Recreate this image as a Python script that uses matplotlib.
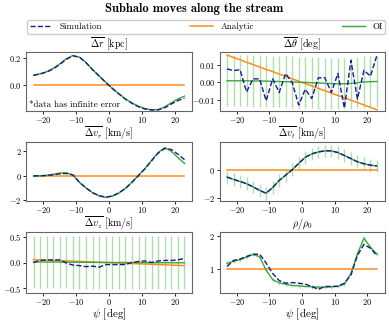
import numpy as np
import matplotlib
matplotlib.use('Agg')
import matplotlib.pyplot as plt

plt.rcParams['font.family'] = 'serif'
plt.rcParams['font.serif'] = ['cmr10']
plt.rcParams['mathtext.fontset'] = 'cm'
plt.rcParams['axes.formatter.use_mathtext'] = True

# angulo ao longo da corrente
psi = [-23, -21, -19, -17, -15, -13, -11, -9, -7, -5, -3, -1,
       1, 3, 5, 7, 9, 11, 13, 15, 17, 19, 21, 23]

# delta r [kpc]
dr_sim = [0.074, 0.083, 0.097, 0.12, 0.153, 0.19, 0.215, 0.205, 0.165, 0.114, 0.068, 0.022,
          -0.022, -0.062, -0.10, -0.13, -0.155, -0.172, -0.179, -0.178, -0.162, -0.135, -0.11, -0.093]
dr_ana = [0.0] * 24
dr_oi = [0.073, 0.085, 0.100, 0.124, 0.157, 0.194, 0.218, 0.206, 0.166, 0.115, 0.069, 0.023,
         -0.021, -0.060, -0.098, -0.128, -0.152, -0.169, -0.177, -0.175, -0.156, -0.126, -0.098, -0.078]

# delta theta [deg]
dth_sim = [0.0076, 0.0067, 0.0072, -0.0054, 0.002, 0.002, -0.0104, 0.002, -0.0057, 0.005, -0.0002, -0.0128,
           -0.0039, -0.0091, 0.0026, 0.0026, -0.0057, 0.005, -0.0146, 0.0124, -0.0094, 0.0068, 0.0035, 0.0155]
dth_ana = [0.0155, 0.0141, 0.0128, 0.0114, 0.0101, 0.0087, 0.0074, 0.0061, 0.0047, 0.0034, 0.002, 0.0007,
           -0.0007, -0.002, -0.0034, -0.0047, -0.0061, -0.0074, -0.0087, -0.0101, -0.0114, -0.0128, -0.0141, -0.0155]
dth_oi = [0.0009, 0.0009, 0.0009, 0.0009, 0.0008, 0.0008, 0.0007, 0.0006, 0.0005, 0.0004, 0.0002, 0.0001,
          0.0, -0.0002, -0.0003, -0.0005, -0.0007, -0.0008, -0.0008, -0.0006, -0.0002, 0.0002, 0.0004, 0.0005]
dth_err = [0.0145] * 24

# delta v_r [km/s]
vr_sim = [-0.03, -0.02, 0.0, 0.06, 0.14, 0.17, 0.05, -0.55, -1.0, -1.38, -1.62, -1.74,
          -1.65, -1.4, -1.05, -0.55, 0.0, 0.55, 1.2, 1.82, 2.18, 2.1, 1.72, 1.28]
vr_ana = [0.0] * 24
vr_oi = [-0.04, -0.02, 0.02, 0.1, 0.2, 0.22, 0.05, -0.55, -1.0, -1.38, -1.64, -1.76,
         -1.66, -1.4, -1.03, -0.52, 0.03, 0.58, 1.22, 1.85, 2.25, 1.95, 1.45, 0.98]
vr_err = [0.08] * 24

# delta v_t [km/s]
vt_sim = [-0.51, -0.68, -0.82, -0.98, -1.2, -1.45, -1.65, -1.25, -0.75, -0.38, 0.0, 0.45,
          0.88, 1.12, 1.25, 1.33, 1.33, 1.21, 1.0, 0.78, 0.56, 0.42, 0.32, 0.26]
vt_ana = [0.0] * 24
vt_oi = [-0.52, -0.68, -0.83, -0.99, -1.21, -1.46, -1.66, -1.26, -0.76, -0.38, 0.0, 0.44,
         0.87, 1.11, 1.25, 1.32, 1.32, 1.2, 1.0, 0.78, 0.56, 0.42, 0.32, 0.26]
vt_err = [0.45] * 24

# delta v_z [km/s]
vz_sim = [0.0, 0.04, 0.05, 0.05, 0.05, -0.01, -0.05, -0.06, -0.08, -0.07, -0.09, -0.04,
          -0.04, -0.04, -0.04, 0.0, 0.02, 0.03, 0.0, 0.03, 0.04, 0.04, 0.05, 0.08]
vz_ana = [0.055, 0.05, 0.045, 0.04, 0.035, 0.03, 0.025, 0.02, 0.015, 0.01, 0.005, 0.0,
          -0.005, -0.01, -0.015, -0.02, -0.025, -0.03, -0.035, -0.04, -0.045, -0.05, -0.055, -0.06]
vz_oi = [0.01, 0.01, 0.01, 0.01, 0.01, 0.008, 0.006, 0.005, 0.004, 0.003, 0.002, 0.001,
         0.0, 0.0, 0.0, -0.001, -0.002, -0.003, -0.003, -0.004, -0.004, -0.005, -0.005, -0.005]
vz_err = [0.51] * 24

# rho / rho0
rho_sim = [1.06, 1.25, 1.29, 1.37, 1.44, 1.44, 1.17, 0.85, 0.63, 0.55, 0.57, 0.55,
           0.52, 0.45, 0.36, 0.45, 0.45, 0.46, 0.55, 0.8, 1.4, 1.74, 1.62, 1.39]
rho_ana = [1.0] * 24
rho_oi = [1.16, 1.22, 1.27, 1.35, 1.43, 1.36, 0.95, 0.66, 0.56, 0.52, 0.48, 0.47,
          0.45, 0.44, 0.43, 0.43, 0.44, 0.45, 0.52, 0.85, 1.45, 1.93, 1.65, 1.44]
rho_err = [0.06] * 24

fig = plt.figure(figsize=(3.89, 3.23), dpi=100)
W, H = 389, 323

def caixa(x0, x1, y0, y1):
  return [x0 / W, 1 - y1 / H, (x1 - x0) / W, (y1 - y0) / H]

cols = [(26, 192), (219.5, 384.5)]
rows = [(52, 111), (142, 201), (232, 293)]

def painel(r, c, sim, ana, oi, err, titulo, ylim, yticks):
  ax = fig.add_axes(caixa(cols[c][0], cols[c][1], rows[r][0], rows[r][1]))
  l1, = ax.plot(psi, sim, '--', color='#1a1a8c', lw=1.0, label='Simulation', zorder=4)
  l2, = ax.plot(psi, ana, '-', color='#ff8c1a', lw=1.1, label='Analytic', zorder=3)
  l3, = ax.plot(psi, oi, '-', color='#3aa83a', lw=1.0, label='OI', zorder=3)
  if err is not None:
    ax.errorbar(psi, oi, yerr=err, fmt='none', ecolor='#3aa83a', alpha=0.4, lw=1.0, zorder=2)
  ax.set_title(titulo, fontsize=7.2, pad=0.5)
  ax.set_xlim(-25.3, 25.3)
  ax.set_ylim(ylim)
  ax.set_xticks([-20, -10, 0, 10, 20])
  ax.set_yticks(yticks)
  ax.tick_params(labelsize=6, length=2.2, width=0.6, pad=1)
  ax.tick_params(axis='x', pad=0.5)
  for s in ax.spines.values():
    s.set_color('0.4')
    s.set_linewidth(0.8)
  if r == 2:
    ax.set_xlabel(r'$\psi$ [deg]', fontsize=8, labelpad=0)
  return ax, [l1, l2, l3]

ax1, linhas = painel(0, 0, dr_sim, dr_ana, dr_oi, None, r'$\overline{\Delta r}$ [kpc]',
                     (-0.186, 0.243), [0.0, 0.2])
ax1.text(0.02, 0.07, '*data has infinite error', transform=ax1.transAxes, fontsize=6.5)
painel(0, 1, dth_sim, dth_ana, dth_oi, dth_err, r'$\overline{\Delta \theta}$ [deg]',
       (-0.0162, 0.0172), [-0.01, 0.0, 0.01])
painel(1, 0, vr_sim, vr_ana, vr_oi, vr_err, r'$\overline{\Delta v_r}$ [km/s]',
       (-2.05, 2.7), [-2, 0, 2])
painel(1, 1, vt_sim, vt_ana, vt_oi, vt_err, r'$\overline{\Delta v_t}$ [km/s]',
       (-2.2, 1.95), [-2, 0])
painel(2, 0, vz_sim, vz_ana, vz_oi, vz_err, r'$\overline{\Delta v_z}$ [km/s]',
       (-0.59, 0.59), [-0.5, 0.0, 0.5])
painel(2, 1, rho_sim, rho_ana, rho_oi, rho_err, r'$\rho/\rho_0$',
       (0.25, 2.12), [1, 2])

fig.text(0.5, 1 - 9 / H, 'Subhalo moves along the stream', ha='center', va='center',
         fontsize=9, family='cmb10')
fig.legend(linhas, ['Simulation', 'Analytic', 'OI'], loc='center left',
           bbox_to_anchor=(27 / W, 1 - 34 / H, (385 - 27) / W, 14 / H), mode='expand',
           ncol=3, fontsize=6.5, borderaxespad=0, handlelength=2.5, framealpha=1,
           edgecolor='0.8', borderpad=0.3)

fig.savefig('out.png', dpi=100)
